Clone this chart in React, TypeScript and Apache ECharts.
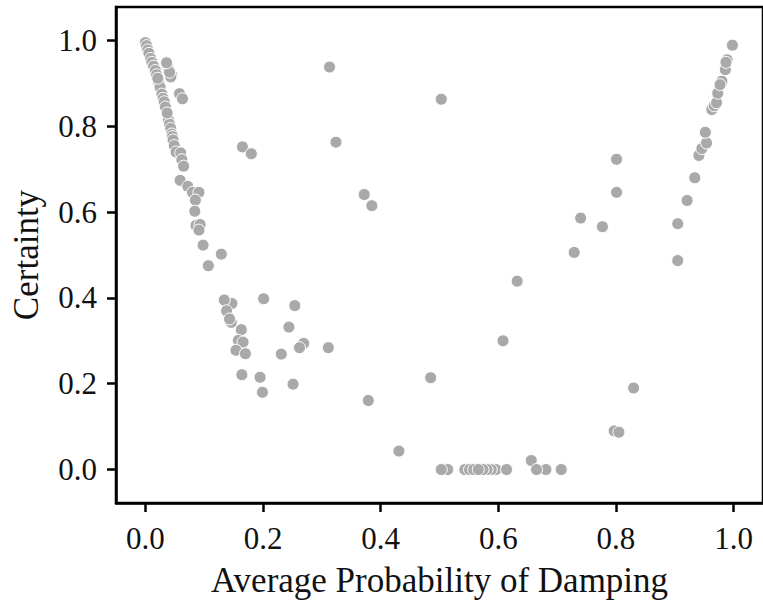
import React, { useEffect, useRef } from "react";
import * as echarts from "echarts";

// Average probability of damping (x) and certainty (y)
const leftBranch: [number, number][] = [
  [0.000, 0.995], [0.002, 0.988], [0.004, 0.978], [0.006, 0.970], [0.009, 0.958],
  [0.011, 0.949], [0.014, 0.940], [0.017, 0.930], [0.019, 0.920], [0.023, 0.900],
  [0.025, 0.891], [0.028, 0.875], [0.030, 0.865], [0.032, 0.857], [0.034, 0.845],
  [0.039, 0.815], [0.041, 0.805], [0.043, 0.795], [0.045, 0.782], [0.046, 0.776],
  [0.047, 0.768], [0.049, 0.755], [0.052, 0.740], [0.038, 0.940], [0.040, 0.930],
  [0.045, 0.918], [0.043, 0.915], [0.041, 0.926], [0.036, 0.948], [0.021, 0.912],
  [0.037, 0.831], [0.058, 0.876], [0.063, 0.864], [0.060, 0.738], [0.062, 0.722],
  [0.065, 0.707], [0.059, 0.674], [0.072, 0.660], [0.080, 0.646], [0.091, 0.646],
  [0.085, 0.628], [0.084, 0.602], [0.086, 0.569], [0.093, 0.571], [0.091, 0.558],
  [0.098, 0.523], [0.129, 0.502], [0.107, 0.475],
];

const middleGroup: [number, number][] = [
  [0.141, 0.380], [0.147, 0.387], [0.134, 0.395], [0.138, 0.370], [0.146, 0.343],
  [0.143, 0.351], [0.163, 0.326], [0.158, 0.301], [0.166, 0.297], [0.154, 0.278],
  [0.170, 0.270], [0.164, 0.221], [0.195, 0.215], [0.199, 0.180], [0.201, 0.398],
  [0.254, 0.382], [0.244, 0.332], [0.231, 0.269], [0.269, 0.294], [0.262, 0.284],
  [0.311, 0.284], [0.251, 0.199], [0.165, 0.752], [0.180, 0.736], [0.313, 0.938],
  [0.324, 0.763], [0.372, 0.641], [0.385, 0.615], [0.379, 0.161], [0.431, 0.043],
  [0.485, 0.214], [0.503, 0.863], [0.608, 0.300], [0.632, 0.439],
];

const zeroRow: [number, number][] = [
  [0.514, 0.0], [0.503, 0.0], [0.543, 0.0], [0.596, 0.0], [0.551, 0.0],
  [0.588, 0.0], [0.558, 0.0], [0.581, 0.0], [0.574, 0.0], [0.566, 0.0],
  [0.614, 0.0], [0.656, 0.021], [0.681, 0.0], [0.665, 0.0], [0.707, 0.0],
];

const rightBranch: [number, number][] = [
  [0.729, 0.506], [0.740, 0.586], [0.777, 0.566], [0.801, 0.723], [0.801, 0.646],
  [0.797, 0.090], [0.805, 0.087], [0.830, 0.190], [0.905, 0.487], [0.905, 0.573],
  [0.921, 0.627], [0.934, 0.680], [0.941, 0.732], [0.951, 0.757], [0.946, 0.748],
  [0.954, 0.761], [0.952, 0.786], [0.963, 0.839], [0.967, 0.848], [0.971, 0.855],
  [0.973, 0.877], [0.980, 0.905], [0.977, 0.897], [0.989, 0.955], [0.986, 0.932],
  [0.987, 0.949], [0.998, 0.989],
];

const xTicks = [0, 0.2, 0.4, 0.6, 0.8, 1.0];
const yTicks = [0, 0.2, 0.4, 0.6, 0.8, 1.0];

const xTitle = "Average Probability of Damping";
const yTitle = "Certainty";

const FONT = "'Liberation Serif', 'Times New Roman', serif";

export default function App() {
  const ref = useRef<HTMLDivElement>(null);

  useEffect(() => {
    if (!ref.current) return;
    const chart = echarts.init(ref.current, undefined, { renderer: "svg" });
    const allPoints = [...leftBranch, ...middleGroup, ...zeroRow, ...rightBranch];
    const axisCommon = {
      type: "value" as const,
      splitLine: { show: false },
      axisLine: { show: true, onZero: false, lineStyle: { color: "#000", width: 2.5 } },
      axisTick: { show: true, inside: false, length: 9, lineStyle: { color: "#000", width: 2.5 } },
      nameLocation: "middle" as const,
      nameTextStyle: { fontFamily: FONT, fontSize: 35, color: "#111" },
    };
    chart.setOption({
      animation: false,
      backgroundColor: "#fff",
      grid: {
        left: 116,
        top: 7,
        right: -3,
        bottom: 93,
        show: true,
        borderColor: "#000",
        borderWidth: 2.5,
        containLabel: false,
      },
      xAxis: {
        ...axisCommon,
        min: -0.05,
        max: 1.05,
        name: xTitle,
        nameGap: 60,
        axisTick: { ...axisCommon.axisTick, customValues: xTicks },
        axisLabel: {
          customValues: xTicks,
          formatter: (v: number) => v.toFixed(1),
          fontFamily: FONT,
          fontSize: 31,
          color: "#111",
          margin: 20,
        },
      },
      yAxis: {
        ...axisCommon,
        min: -0.078,
        max: 1.078,
        name: yTitle,
        nameGap: 72,
        axisTick: { ...axisCommon.axisTick, customValues: yTicks },
        axisLabel: {
          customValues: yTicks,
          formatter: (v: number) => v.toFixed(1),
          fontFamily: FONT,
          fontSize: 31,
          color: "#111",
          margin: 19,
        },
      },
      series: [
        {
          type: "scatter",
          data: allPoints,
          symbol: "circle",
          symbolSize: 12,
          itemStyle: { color: "#a9a9a9", borderColor: "#fff", borderWidth: 1, opacity: 1 },
          emphasis: { disabled: true },
        },
      ],
    });
    return () => chart.dispose();
  }, []);

  return <div ref={ref} style={{ width: 763, height: 603, position: "absolute", left: 0, top: 0 }} />;
}
